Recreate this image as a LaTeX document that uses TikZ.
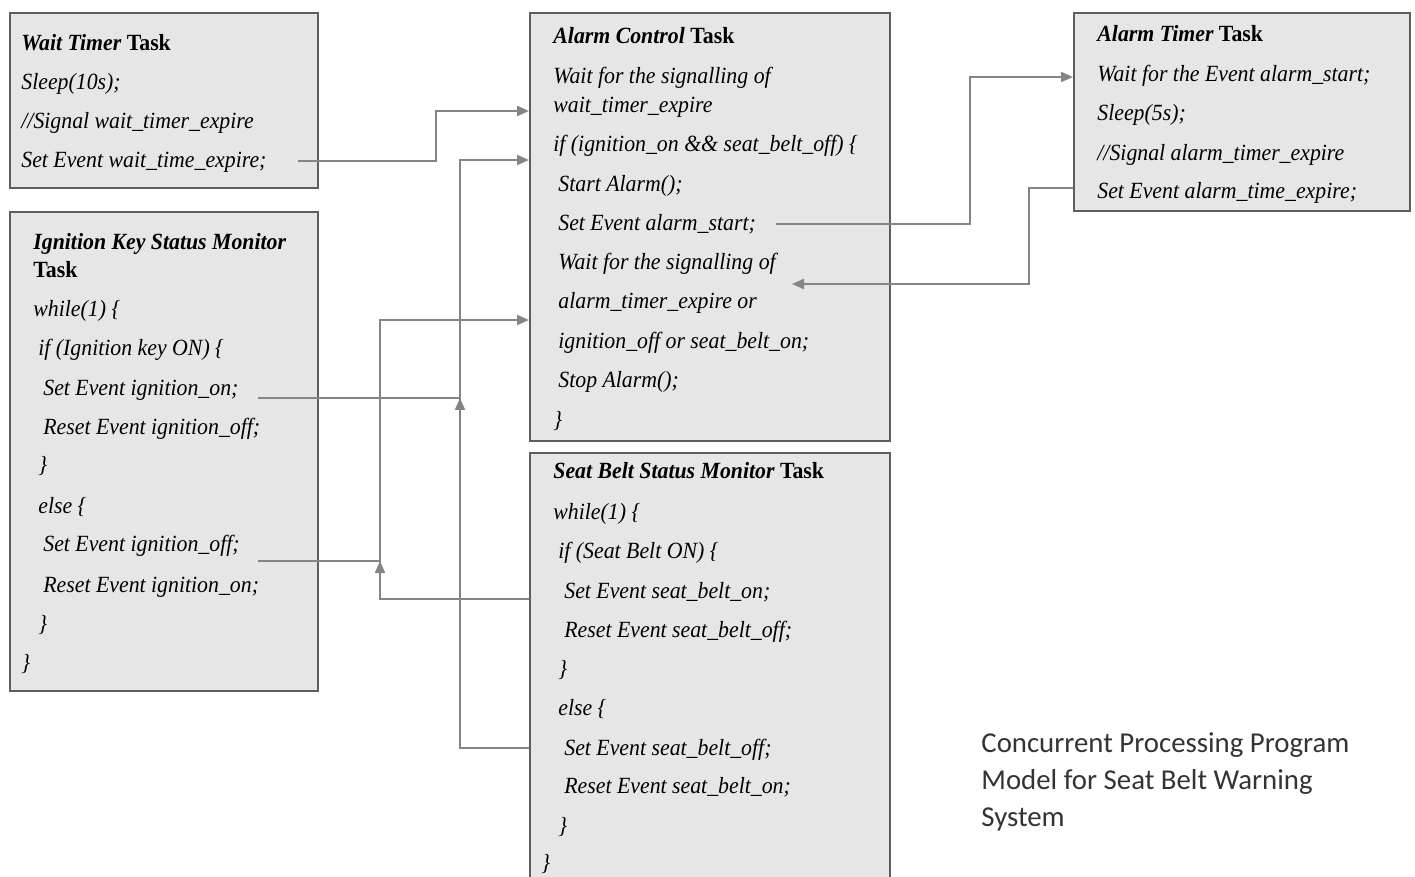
\documentclass[tikz,border=0pt]{standalone}
\usepackage{fontspec}
\setmainfont{Liberation Serif}[FakeStretch=0.94]
\newfontfamily\capfont{Carlito}
\usetikzlibrary{arrows.meta}
\definecolor{boxfill}{HTML}{E6E6E6}
\definecolor{boxline}{HTML}{5E5E5E}
\definecolor{wirecol}{HTML}{858585}
\definecolor{captext}{HTML}{333333}

\begin{document}
\begin{tikzpicture}[x=0.5pt,y=-0.5pt,
  taskbox/.style={draw=boxline, fill=boxfill, line width=1pt, anchor=north west, inner sep=0pt},
  code/.style={anchor=base west, inner sep=0pt, font=\fontsize{11.6}{13}\selectfont\itshape},
  head/.style={anchor=base west, inner sep=0pt, font=\fontsize{11.6}{13}\selectfont\bfseries},
  wire/.style={draw=wirecol, line width=1pt},
  tip/.style={-{Triangle[length=6pt,width=5pt]}},
  caption/.style={anchor=base west, inner sep=0pt, text=captext, font=\capfont\fontsize{14.4}{18}\selectfont}]

\clip (0,0) rectangle (1415,877);
\fill[white] (0,0) rectangle (1415,877);

% ---------- task boxes ----------
\node[taskbox, minimum width=154pt, minimum height=87.5pt]  (wt) at (9,12) {};
\node[taskbox, minimum width=154pt, minimum height=239.5pt] (ik) at (9,211) {};
\node[taskbox, minimum width=180pt, minimum height=214pt]   (ac) at (529,12) {};
\node[taskbox, minimum width=180pt, minimum height=240pt]   (sb) at (529,452) {};
\node[taskbox, minimum width=168pt, minimum height=99pt]    (at) at (1073,12) {};

% ---------- Wait Timer Task ----------
\node[head] (wt0) at (21,51) {\itshape Wait Timer\upshape{} Task};
\node[code] (wt1) at (21,90)  {Sleep(10s);};
\node[code] (wt2) at (21,129) {//Signal wait\_timer\_expire};
\node[code] (wt3) at (21,168) {Set Event wait\_time\_expire;};

% ---------- Ignition Key Status Monitor Task ----------
\node[head] (ik0) at (33,250) {\itshape Ignition Key Status Monitor};
\node[head] (ik0b) at (33,278) {Task};
\node[code] (ik1) at (33,317)  {while(1) \{};
\node[code] (ik2) at (38,356)  {if (Ignition key ON) \{};
\node[code] (ik3) at (43,396)  {Set Event ignition\_on;};
\node[code] (ik4) at (43,435)  {Reset Event ignition\_off;};
\node[code] (ik5) at (38,473)  {\}};
\node[code] (ik6) at (38,513)  {else \{};
\node[code] (ik7) at (43,552)  {Set Event ignition\_off;};
\node[code] (ik8) at (43,592)  {Reset Event ignition\_on;};
\node[code] (ik9) at (38,631)  {\}};
\node[code] (ik10) at (21,670) {\}};

% ---------- Alarm Control Task ----------
\node[head] (ac0) at (553,44) {\itshape Alarm Control\upshape{} Task};
\node[code] (ac1) at (553,84)  {Wait for the signalling of};
\node[code] (ac2) at (553,113) {wait\_timer\_expire};
\node[code] (ac3) at (553,152) {if (ignition\_on \&\& seat\_belt\_off) \{};
\node[code] (ac4) at (558,192) {Start Alarm();};
\node[code] (ac5) at (558,231) {Set Event alarm\_start;};
\node[code] (ac6) at (558,270) {Wait for the signalling of};
\node[code] (ac7) at (558,309) {alarm\_timer\_expire or};
\node[code] (ac8) at (558,349) {ignition\_off or seat\_belt\_on;};
\node[code] (ac9) at (558,388) {Stop Alarm();};
\node[code] (ac10) at (553,428) {\}};

% ---------- Seat Belt Status Monitor Task ----------
\node[head] (sb0) at (553,479) {\itshape Seat Belt Status Monitor\upshape{} Task};
\node[code] (sb1) at (553,519)  {while(1) \{};
\node[code] (sb2) at (558,558)  {if (Seat Belt ON) \{};
\node[code] (sb3) at (564,598)  {Set Event seat\_belt\_on;};
\node[code] (sb4) at (564,637)  {Reset Event seat\_belt\_off;};
\node[code] (sb5) at (558,676)  {\}};
\node[code] (sb6) at (558,715)  {else \{};
\node[code] (sb7) at (564,755)  {Set Event seat\_belt\_off;};
\node[code] (sb8) at (564,793)  {Reset Event seat\_belt\_on;};
\node[code] (sb9) at (558,833)  {\}};
\node[code] (sb10) at (541,870) {\}};

% ---------- Alarm Timer Task ----------
\node[head] (at0) at (1097,42) {\itshape Alarm Timer\upshape{} Task};
\node[code] (at1) at (1097,82)  {Wait for the Event alarm\_start;};
\node[code] (at2) at (1097,121) {Sleep(5s);};
\node[code] (at3) at (1097,161) {//Signal alarm\_timer\_expire};
\node[code] (at4) at (1097,199) {Set Event alarm\_time\_expire;};

% ---------- caption ----------
\node[caption] (cap1) at (981,752) {Concurrent Processing Program};
\node[caption] (cap2) at (981,789) {Model for Seat Belt Warning};
\node[caption] (cap3) at (981,826) {System};

% ---------- connector anchor points ----------
\coordinate (wtOut) at (298,161);
\coordinate (wtBend) at (436,111);
\coordinate (ionOut) at (258,398);
\coordinate (ioffOut) at (258,561);
\coordinate (jOn) at (460,398);
\coordinate (jOff) at (380,561);
\coordinate (busOn) at (460,160);
\coordinate (busOff) at (380,320);
\coordinate (sbOff) at (529,748);
\coordinate (sbOn) at (529,599);
\coordinate (asOut) at (776,224);
\coordinate (asBend) at (970,77);
\coordinate (ateOut) at (1073,188);
\coordinate (ateBend) at (1029,284);
\coordinate (ateIn) at (792,284);

% ---------- connectors ----------
% wait_time_expire -> Alarm Control
\draw[wire, tip] (wtOut) -| (wtBend) -- (wtBend -| ac.west);
% seat_belt_off / ignition_on -> Alarm Control
\draw[wire, tip] (sbOff) -| (busOn) -- (busOn -| ac.west);
\draw[wire] (ionOut) -- (jOn);
\draw[wire, tip] (jOn) ++(0,16) -- (jOn);
% seat_belt_on / ignition_off -> Alarm Control
\draw[wire, tip] (sbOn) -| (busOff) -- (busOff -| ac.west);
\draw[wire] (ioffOut) -- (jOff);
\draw[wire, tip] (jOff) ++(0,16) -- (jOff);
% alarm_start -> Alarm Timer
\draw[wire, tip] (asOut) -| (asBend) -- (asBend -| at.west);
% alarm_time_expire -> Alarm Control
\draw[wire, tip] (ateOut) -| (ateBend) -- (ateIn);

\end{tikzpicture}
\end{document}
